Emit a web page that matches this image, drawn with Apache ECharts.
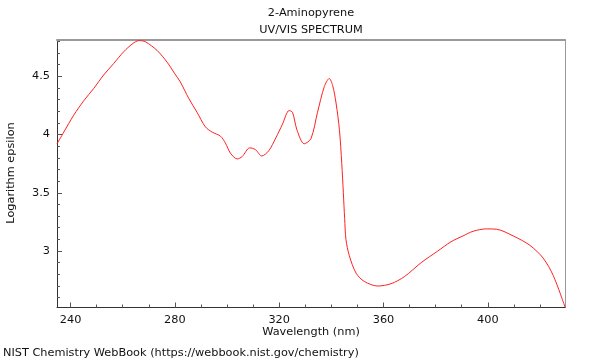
<!DOCTYPE html>
<html>
<head>
<meta charset="utf-8">
<script src="https://cdn.jsdelivr.net/npm/echarts@6/dist/echarts.min.js"></script>
<style>html,body{margin:0;padding:0;background:#fff;}#c{width:600px;height:360px;}</style>
</head>
<body>
<div id="c"></div>
<script>
const wavelengths = [234.8,237.4,241.2,245.1,248.9,252.7,256.6,260.4,263.6,266.2,268.7,273.2,277.0,280.0,282.1,285.3,288.5,291.7,294.3,297.5,299.4,301.3,303.9,305.8,308.7,310.9,313.3,316.0,318.7,321.3,323.8,325.1,326.8,329.6,332.2,334.7,337.3,339.2,340.5,341.8,343.1,344.0,344.6,345.1,345.6,346.9,349.5,352.6,357.8,362.9,368.0,374.4,380.8,385.9,390.5,394.4,399.5,403.4,409.7,416.1,421.2,425.1,429.6];
const logEpsilon = [3.92,4.02,4.165,4.29,4.395,4.51,4.61,4.71,4.775,4.805,4.795,4.72,4.62,4.52,4.45,4.31,4.19,4.065,4.02,3.985,3.925,3.84,3.79,3.81,3.885,3.87,3.815,3.86,3.97,4.09,4.205,4.19,4.04,3.92,3.965,4.19,4.41,4.48,4.42,4.27,4.04,3.75,3.5,3.28,3.10,2.96,2.81,2.74,2.70,2.72,2.78,2.90,3.00,3.08,3.13,3.17,3.19,3.187,3.13,3.05,2.94,2.79,2.52];
const xMajorTicks = [240,280,320,360,400];
const xMinorTicks = [250,260,270,290,300,310,330,340,350,370,380,390,410,420];
const yMajorTicks = [3,3.5,4,4.5];
const yMinorTicks = [2.6,2.7,2.8,2.9,3.1,3.2,3.3,3.4,3.6,3.7,3.8,3.9,4.1,4.2,4.3,4.4,4.6,4.7,4.8];
const titleLines = ['2-Aminopyrene','UV/VIS SPECTRUM'];
const xName = 'Wavelength (nm)';
const yName = 'Logarithm epsilon';
const footer = 'NIST Chemistry WebBook (https://webbook.nist.gov/chemistry)';

const X_MIN = 234.8, X_MAX = 429.6, Y_MIN = 2.516, Y_MAX = 4.81;
const FONT = 'DejaVu Sans';
const FS = 11.3;
const TF = FS + 'px "DejaVu Sans"';
const chart = echarts.init(document.getElementById('c'), null, {renderer:'canvas'});
const baseX = {type:'value', min:X_MIN, max:X_MAX, splitLine:{show:false}};
const baseY = {type:'value', min:Y_MIN, max:Y_MAX, splitLine:{show:false}};
chart.setOption({
  animation:false,
  backgroundColor:'#fff',
  grid:{left:57, right:35, top:40, bottom:52.5, containLabel:false},
  xAxis:[
    Object.assign({}, baseX, {position:'bottom',
      axisLine:{show:true, lineStyle:{color:'#333', width:1}},
      axisTick:{show:true, inside:true, length:5, customValues:xMajorTicks, lineStyle:{color:'#555'}},
      axisLabel:{show:true, customValues:xMajorTicks, margin:7, color:'#111', fontFamily:FONT, fontSize:FS}}),
    Object.assign({}, baseX, {position:'bottom',
      axisLine:{show:false},
      axisTick:{show:true, inside:true, length:3, customValues:xMinorTicks, lineStyle:{color:'#555'}},
      axisLabel:{show:false}}),
    Object.assign({}, baseX, {position:'top',
      axisLine:{show:true, lineStyle:{color:'#999', width:2}},
      axisTick:{show:false}, axisLabel:{show:false}})
  ],
  yAxis:[
    Object.assign({}, baseY, {position:'left',
      axisLine:{show:true, lineStyle:{color:'#333', width:1}},
      axisTick:{show:true, inside:true, length:5, customValues:yMajorTicks, lineStyle:{color:'#555'}},
      axisLabel:{show:true, customValues:yMajorTicks, margin:7, color:'#111', fontFamily:FONT, fontSize:FS}}),
    Object.assign({}, baseY, {position:'left',
      axisLine:{show:false},
      axisTick:{show:true, inside:true, length:3, customValues:yMinorTicks, lineStyle:{color:'#555'}},
      axisLabel:{show:false}}),
    Object.assign({}, baseY, {position:'right',
      axisLine:{show:true, lineStyle:{color:'#999', width:1}},
      axisTick:{show:false}, axisLabel:{show:false}})
  ],
  graphic:[
    {type:'text', position:[311,8], style:{text:titleLines[0], fill:'#111', font:TF, textAlign:'center'}},
    {type:'text', position:[311,25], style:{text:titleLines[1], fill:'#111', font:TF, textAlign:'center'}},
    {type:'text', position:[311,327], style:{text:xName, fill:'#111', font:TF, textAlign:'center'}},
    {type:'text', position:[6,173], rotation:Math.PI/2, style:{text:yName, fill:'#111', font:TF, textAlign:'center', textVerticalAlign:'top'}},
    {type:'text', position:[3,348], style:{text:footer, fill:'#111', font:TF, textAlign:'left'}}
  ],
  series:[{
    type:'line', xAxisIndex:0, yAxisIndex:0,
    data:wavelengths.map((w,i)=>[w, logEpsilon[i]]),
    showSymbol:false, smooth:0.3,
    lineStyle:{color:'#ff2020', width:1}, clip:true
  }]
});
</script>
</body>
</html>
